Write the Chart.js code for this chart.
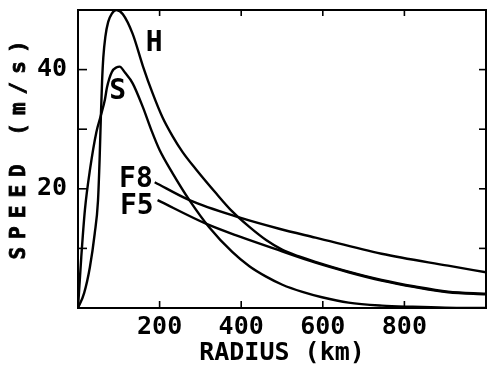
<!DOCTYPE html>
<html><head><meta charset="utf-8">
<script src="https://cdn.jsdelivr.net/npm/chart.js@4/dist/chart.umd.min.js"></script>
<style>html,body{margin:0;padding:0;background:#fff}#wrap{width:487px;height:366px}</style>
</head><body><div id="wrap"><canvas id="c" width="487" height="366"></canvas></div>
<script>
// ---- data (radius in km, speed in m/s) ----
const radiusH  = [0, 15, 29, 41, 49, 53, 56, 59, 62, 67, 74, 83, 94, 110, 134, 159, 183, 207, 232, 256, 290, 339, 378, 420, 461, 500, 540, 582, 663, 744, 826, 907, 1000];
const speedH   = [0, 2.5, 6.8, 12.5, 18, 25, 32, 38, 42, 45.5, 48, 49.4, 50, 49.3, 46, 40.6, 36, 32, 28.8, 26.2, 23.2, 19.2, 16.2, 13.6, 11.4, 9.8, 8.7, 7.75, 6.1, 4.7, 3.6, 2.75, 2.4];
const radiusS  = [0, 8, 17, 30, 45, 56, 66, 71, 83, 95, 102, 115, 134, 159, 180, 200, 232, 273, 322, 378, 420, 460, 501, 550, 598, 663, 745, 820, 900, 1000];
const speedS   = [0, 8.5, 16.5, 23.5, 29.5, 32.3, 35, 37, 39.6, 40.4, 40.5, 39.5, 37.7, 33.7, 29.8, 26.5, 22.6, 18.1, 13.5, 9.4, 7.0, 5.3, 3.9, 2.7, 1.8, 0.9, 0.4, 0.2, 0.05, 0];
const radiusF8 = [188, 273, 395, 493, 582, 744, 907, 1000];
const speedF8  = [21.1, 18.1, 15.2, 13.3, 11.8, 9.1, 7.1, 6.0];
const radiusF5 = [195, 315, 395, 500, 582, 663, 744, 826, 907, 1000];
const speedF5  = [18.1, 14.1, 12.0, 9.5, 7.6, 6.0, 4.6, 3.5, 2.65, 2.3];
const curveNames = ['H', 'S', 'F8', 'F5'];
const xTickLabels = [200, 400, 600, 800];
const yTickLabels = [20, 40];
const xTickMarks = [200, 400, 600, 800];
const yTickMarks = [10, 20, 30, 40];
const xTitle = 'RADIUS (km)';
const yTitle = 'SPEED (m/s)';

// ---- presentation ----
const FONT = '"DejaVu Sans Mono", monospace';
const labelAnchor = { H: [187, 44.5], S: [97, 36.4], F8: [142, 21.7], F5: [144, 17.1] };
const series = [[radiusH, speedH], [radiusS, speedS], [radiusF8, speedF8], [radiusF5, speedF5]];
const pts = (xs, ys) => xs.map((x, i) => ({ x: x, y: ys[i] }));

const decor = {
  id: 'decor',
  afterDatasetsDraw(chart) {
    const { ctx, chartArea: a, scales: { x, y } } = chart;
    ctx.save();
    ctx.strokeStyle = '#000';
    ctx.lineWidth = 2;
    ctx.strokeRect(a.left, a.top, a.right - a.left, a.bottom - a.top);
    ctx.lineWidth = 1.6;
    const seg = (x1, y1, x2, y2) => { ctx.beginPath(); ctx.moveTo(x1, y1); ctx.lineTo(x2, y2); ctx.stroke(); };
    xTickMarks.forEach(v => { const p = x.getPixelForValue(v); seg(p, a.bottom, p, a.bottom - 7); seg(p, a.top, p, a.top + 6); });
    yTickMarks.forEach(v => { const p = y.getPixelForValue(v); seg(a.left, p, a.left + 9, p); seg(a.right, p, a.right - 7, p); });
    ctx.fillStyle = '#000';
    ctx.font = 'bold 28px ' + FONT;
    ctx.textAlign = 'center';
    ctx.textBaseline = 'middle';
    curveNames.forEach(n => {
      const [vx, vy] = labelAnchor[n];
      ctx.fillText(n, x.getPixelForValue(vx), y.getPixelForValue(vy) + 1);
    });
    ctx.restore();
    // y axis title (spaced lettering)
    ctx.save();
    ctx.translate(20, 150);
    ctx.rotate(-Math.PI / 2);
    ctx.font = 'bold 21px ' + FONT;
    ctx.letterSpacing = '8px';
    ctx.fillStyle = '#000';
    ctx.strokeStyle = '#000';
    ctx.lineWidth = 0.8;
    ctx.textAlign = 'center';
    ctx.textBaseline = 'middle';
    ctx.fillText(yTitle, 4, 0);
    ctx.strokeText(yTitle, 4, 0);
    ctx.restore();
  }
};

new Chart(document.getElementById('c'), {
  type: 'line',
  data: {
    datasets: series.map((s, i) => ({
      label: curveNames[i],
      data: pts(s[0], s[1]),
      borderColor: '#000',
      borderWidth: 2.4,
      pointRadius: 0,
      fill: false,
      cubicInterpolationMode: 'monotone'
    }))
  },
  options: {
    responsive: false,
    animation: false,
    devicePixelRatio: 1,
    layout: { padding: { top: 10, right: 1, left: 0, bottom: 0 } },
    plugins: { legend: { display: false }, tooltip: { enabled: false } },
    scales: {
      x: {
        type: 'linear', min: 0, max: 1000,
        afterBuildTicks: s => { s.ticks = xTickLabels.map(v => ({ value: v })); },
        afterFit: s => { s.height = 58; s.paddingLeft = 0; s.paddingRight = 0; },
        ticks: { color: '#000', font: { family: FONT, size: 25, weight: 'bold' }, padding: 4, maxRotation: 0, autoSkip: false },
        grid: { display: false, drawTicks: false },
        border: { display: false },
        title: { display: true, text: xTitle, color: '#000', font: { family: FONT, size: 25, weight: 'bold', lineHeight: 1 }, padding: 0 }
      },
      y: {
        type: 'linear', min: 0, max: 50,
        afterBuildTicks: s => { s.ticks = yTickLabels.map(v => ({ value: v })); },
        afterFit: s => { s.width = 78; s.paddingTop = 0; s.paddingBottom = 0; },
        ticks: { color: '#000', font: { family: FONT, size: 25, weight: 'bold' }, padding: 11, autoSkip: false },
        grid: { display: false, drawTicks: false },
        border: { display: false },
        title: { display: false }
      }
    }
  },
  plugins: [decor]
});
</script>
</body></html>
